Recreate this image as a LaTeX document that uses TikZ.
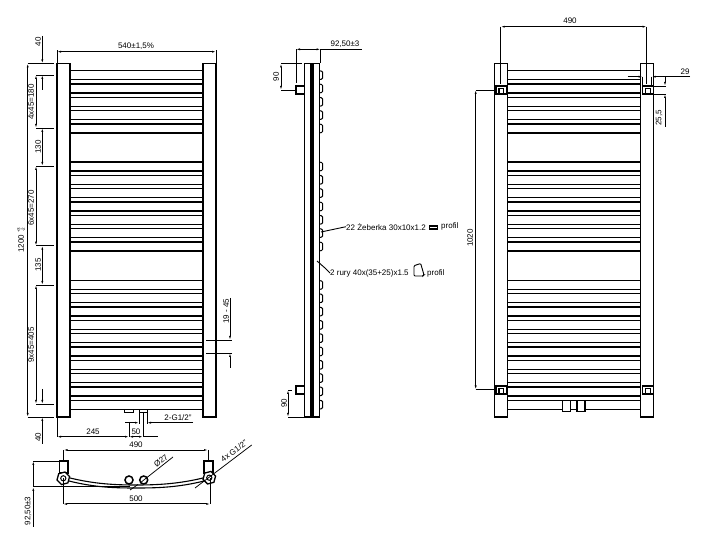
\documentclass[tikz,border=0pt]{standalone}
\usepackage{fontspec}
\setmainfont{Liberation Sans}
\usetikzlibrary{arrows.meta,shapes.geometric}
\tikzset{
  frame/.style={draw=black,line width=1.3pt,fill=white},
  rib/.style={draw=black,line width=1.25pt},
  dim/.style={draw=black,line width=0.75pt,>={Latex[length=4pt,width=2pt]}},
  lab/.style={inner sep=0pt,font=\fontsize{8}{9}\selectfont,text=black},
  hexfit/.style={draw=black,line width=1.3pt,regular polygon,regular polygon sides=6,minimum size=13pt,inner sep=0pt,rotate=15,fill=white},
}
\newcommand{\ribtops}{70.7,84,97.3,110.6,124,162,175.3,188.6,202,215.3,228.6,242,280.5,293.8,307.1,320.4,333.7,347,360.3,373.6,386.9,400.2}
\newcommand{\clipmark}[2]{%
  \draw[frame] (#1,#2) rectangle +(10.5,8);
  \draw[line width=1.1pt] (#1+3,#2+8) -- (#1+3,#2+2.5) -- (#1+7.5,#2+2.5) -- (#1+7.5,#2+8);
}
\begin{document}
\begin{tikzpicture}[x=1pt,y=-1pt]
\useasboundingbox[fill=white] (0,0) rectangle (705,537);
% front view
\foreach \y in \ribtops {
  \draw[rib] (70,\y) -- (203,\y) (70,\y+9) -- (203,\y+9);
}
\draw[frame] (57,63.5) rectangle (70,417);
\draw[frame] (203,63.5) rectangle (216,417);
\draw[frame,line width=0.9pt] (124.5,409.5) rectangle (133,412);
\draw[frame,line width=0.9pt] (139,409.5) rectangle (147.5,412);
% width
\draw[dim] (57,63) -- (57,50) (216,63) -- (216,50);
\draw[dim,<->] (57,51.7) -- (216,51.7);
\node (wfront) [lab] at (136,46) {540±1,5\%};
% left chain
\draw[dim] (27.7,63.5) -- (54,63.5) (27.7,417) -- (54,417);
\draw[dim,<->] (27.7,63.5) -- (27.7,417);
\node (htotal) [lab,rotate=90] at (21,240) {1200\hspace{2pt}\raisebox{3.5pt}{\fontsize{4.5}{4.5}\selectfont +3}\llap{\raisebox{-1pt}{\fontsize{4.5}{4.5}\selectfont -2}}};
\foreach \y in {75,128,166,245.7,285,404} {
  \draw[dim] (36,\y) -- (54,\y);
}
\draw[dim,->] (42.3,36) -- (42.3,63.5);
\draw[dim,->] (42.3,90) -- (42.3,75);
\draw[dim,<->] (36,75) -- (36,128);
\draw[dim,<->] (42.3,128) -- (42.3,166);
\draw[dim,<->] (36,166) -- (36,245.7);
\draw[dim,<->] (42.3,245.7) -- (42.3,285);
\draw[dim,<->] (36,285) -- (36,404);
\draw[dim,->] (42.3,389) -- (42.3,404);
\draw[dim,->] (42.3,444) -- (42.3,417);
\node (ttop) [lab,rotate=90] at (38,42) {40};
\node (tfour) [lab,rotate=90] at (31,102) {4x45=180};
\node (tgapa) [lab,rotate=90] at (38,147) {130};
\node (tsix) [lab,rotate=90] at (31,208) {6x45=270};
\node (tgapb) [lab,rotate=90] at (38,265) {135};
\node (tnine) [lab,rotate=90] at (31,345) {9x45=405};
\node (tbot) [lab,rotate=90] at (38,437) {40};
% pitch
\draw[dim] (206,340) -- (232,340) (206,353) -- (232,353);
\draw[dim,->] (230,298) -- (230,340);
\draw[dim,->] (230,368) -- (230,353);
\node (tpitch) [lab,rotate=90] at (226,311) {19 - 45};
% connection dims
\draw[dim] (57,418) -- (57,437) (129,422) -- (129,437) (143,412) -- (143,437);
\draw[dim] (139,412) -- (139,424) (147,412) -- (147,424);
\draw[dim,->] (125,422.7) -- (139,422.7);
\draw[dim,->] (193,422.7) -- (147,422.7);
\draw[dim,<->] (57,436.7) -- (129,436.7);
\draw[dim,<->] (129,436.7) -- (143,436.7);
\draw[dim] (143,436.7) -- (158,436.7);
\node (tconn) [lab] at (93,432) {245};
\node (tspan) [lab] at (136,432) {50};
\node (tthread) [lab] at (178,418) {2-G1/2"};
% top view
\draw[line width=1.1pt] (70,478) .. controls (95,484) and (115,485) .. (136,485) .. controls (157,485) and (178,484) .. (203,478);
\draw[line width=1.1pt] (69,481) .. controls (95,487.5) and (115,488) .. (136,488) .. controls (157,488) and (178,487.5) .. (204,481);
\draw[frame] (59.5,461) rectangle (68,473);
\draw[frame] (204,461) rectangle (213,473);
\node (hexl) [hexfit] at (63.3,478.3) {};
\node (hexr) [hexfit] at (209.3,477.7) {};
\draw[line width=1pt] (hexl) circle (2.6);
\draw[line width=1pt] (hexr) circle (2.6);
\draw[frame,line width=1.5pt] (129,480) circle (4);
\draw[frame,line width=1.5pt] (143.7,480) circle (4);
\draw[dim] (173,457) -- (140,483);
\draw[dim] (130,490) -- (138,484.5);
\draw[dim] (251.7,445) -- (195,488);
\node (tdia) [lab,rotate=38] at (161,461) {Ø27};
\node (tfix) [lab,rotate=37] at (234,451) {4x G1/2"};
\draw[dim] (63.5,450) -- (63.5,461) (208,450) -- (208,461);
\draw[dim,<->] (63.5,450) -- (208,450);
\node (tinner) [lab] at (136,445) {490};
\draw[dim,line width=1pt] (63,478) -- (63,504) (210.3,478) -- (210.3,504);
\draw[dim,line width=1pt,<->] (63,504) -- (210.3,504);
\node (touter) [lab] at (136,499) {500};
\draw[dim] (33.3,461) -- (60,461);
\draw[dim,line width=1pt] (33.3,487) -- (130,487);
\draw[dim,<-] (33.3,461) -- (33.3,487);
\draw[dim,<-] (33.3,487) -- (33.3,527);
\node (tdepth) [lab,rotate=90] at (28,511) {92,50±3};
% side view
\foreach \y in \ribtops {
  \draw[line width=1pt] (319.3,\y) -- (321.5,\y+0.5) -- (322.5,\y+1.5) -- (322.5,\y+7.5) -- (321.5,\y+8.5) -- (319.3,\y+9);
}
\draw[frame] (304.3,63.5) rectangle (319.3,417);
\fill[black] (309.7,63.5) rectangle (314.2,417);
\draw[frame] (296,86) rectangle (304.3,94);
\draw[frame] (296,386) rectangle (304.3,394);
\draw[dim] (296,49.3) -- (296,83) (320.7,49.3) -- (320.7,63);
\draw[dim,<->] (296,49.3) -- (320.7,49.3);
\draw[dim] (320.7,49.3) -- (361.7,49.3);
\node (tside) [lab] at (345,44) {92,50±3};
\draw[dim] (281,63.5) -- (302,63.5) (281,90) -- (296,90);
\draw[dim,<->] (281,63.5) -- (281,90);
\node (tbra) [lab,rotate=90] at (276,77) {90};
\draw[dim] (288,417) -- (304,417) (288,390) -- (292,390);
\draw[dim,<->] (288,390) -- (288,417);
\node (tbrb) [lab,rotate=90] at (284,403) {90};
\node (tribs) [lab,anchor=west] at (346,226.7) {22 Żeberka 30x10x1.2};
\node (ribmark) [draw=black,line width=1.1pt,inner sep=0pt,minimum width=8.5pt,minimum height=3pt] at (433.5,227.5) {};
\node (tribp) [lab,anchor=west] at (441,226.7) {profil};
\draw[dim,line width=0.9pt] (tribs.west) -- (321,232);
\node (ttube) [lab,anchor=west] at (330,273) {2 rury 40x(35+25)x1.5};
\draw[line width=0.9pt,rounded corners=1pt] (414,265.7) -- (420.7,263.5) -- (424,275) -- (423,276) -- (414,276) -- cycle;
\node (ttubep) [lab,anchor=west] at (427,273) {profil};
\draw[dim,line width=0.9pt] (ttube.west) -- (325,268) -- (317,261);
% rear view
\begin{scope}[xshift=437.7pt]
\foreach \y in \ribtops {
  \draw[rib] (70,\y) -- (203,\y) (70,\y+9) -- (203,\y+9);
}
\end{scope}
\draw[frame] (562.7,400.7) rectangle (570.7,411.7);
\draw[frame] (577,400.7) rectangle (585,411.7);
\draw[frame] (494.7,63.5) rectangle (507.7,417);
\draw[frame] (640.7,63.5) rectangle (653.7,417);
\clipmark{496}{86}
\clipmark{642.7}{86}
\clipmark{496}{386}
\clipmark{642.7}{386}
\draw[dim] (500.7,26.7) -- (500.7,84) (646.7,26.7) -- (646.7,84);
\draw[dim,<->] (500.7,26.7) -- (646.7,26.7);
\node (tclip) [lab] at (570,21) {490};
\draw[dim] (475.7,90) -- (496,90) (475.7,389.5) -- (496,389.5);
\draw[dim,<->] (475.7,90) -- (475.7,389.5);
\node (tbrk) [lab,rotate=90] at (470,238) {1020};
\draw[dim] (642.7,76.7) -- (642.7,86) (651.7,76.7) -- (651.7,86);
\draw[dim,->] (627.7,76.7) -- (642.7,76.7);
\draw[dim,->] (690,76.7) -- (651.7,76.7);
\node (tclipw) [lab] at (685,71.5) {29};
\draw[dim] (653,86) -- (666,86) (653,94) -- (666,94);
\draw[dim,->] (665,77) -- (665,86);
\draw[dim,->] (665,127) -- (665,94);
\node (tcliph) [lab,rotate=90] at (659,118) {25,5};
\end{tikzpicture}
\end{document}
